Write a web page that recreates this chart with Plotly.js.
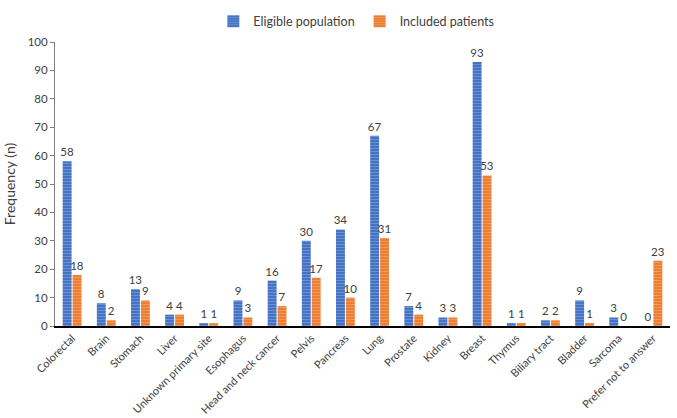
<!DOCTYPE html>
<html><head><meta charset="utf-8">
<script src="https://cdn.plot.ly/plotly-3.0.1.min.js"></script>
<style>html,body{margin:0;padding:0;background:#fff}#chart{width:677px;height:418px}</style>
</head><body><div id="chart"></div>
<script>
const categories = ["Colorectal","Brain","Stomach","Liver","Unknown primary site","Esophagus","Head and neck cancer","Pelvis","Pancreas","Lung","Prostate","Kidney","Breast","Thymus","Biliary tract","Bladder","Sarcoma","Prefer not to answer"];
const eligible = [58,8,13,4,1,9,16,30,34,67,7,3,93,1,2,9,3,0];
const included = [18,2,9,4,1,3,7,17,10,31,4,3,53,1,2,1,0,23];
const seriesNames = ["Eligible population","Included patients"];

const font = "Lato, 'Liberation Sans', Arial, sans-serif";
function tr(name, y, color){
  return {type:"bar", name:name, x:categories, y:y,
    text:y.map(String), textposition:"outside", cliponaxis:false, constraintext:"none",
    textfont:{family:font,size:11.5,color:"#404040"},
    marker:{color:color, line:{width:0},
      pattern:{shape:"-", fgcolor:"rgba(255,255,255,0.45)", bgcolor:color, size:3, solidity:0.35, fillmode:"overlay"}}};
}
const data=[tr(seriesNames[0],eligible,"#4472C4"), tr(seriesNames[1],included,"#ED7D31")];
const layout={
  width:677,height:418,
  margin:{l:55,r:7,t:32,b:92},
  paper_bgcolor:"#fff",plot_bgcolor:"#fff",
  font:{family:font,size:11,color:"#404040"},
  barmode:"group",bargap:0.42,bargroupgap:0.1,
  showlegend:true,
  legend:{orientation:"h",x:0.49,xanchor:"center",y:1.072,yanchor:"middle",font:{family:font,size:12.5,color:"#404040"},itemwidth:30,traceorder:"normal"},
  xaxis:{tickangle:-45,showline:true,linecolor:"#000",linewidth:1.5,ticks:"",tickfont:{family:font,size:11,color:"#404040"},automargin:false},
  yaxis:{range:[0,100],dtick:10,showgrid:false,zeroline:false,showline:true,linecolor:"#7f7f7f",linewidth:1,ticks:"outside",ticklen:4,tickcolor:"#7f7f7f",
    tickfont:{family:font,size:11.5,color:"#404040"},
    title:{text:"Frequency (n)",font:{family:font,size:14,color:"#404040"},standoff:8},automargin:false}
};
Plotly.newPlot("chart",data,layout,{displayModeBar:false,staticPlot:true});
</script></body></html>
